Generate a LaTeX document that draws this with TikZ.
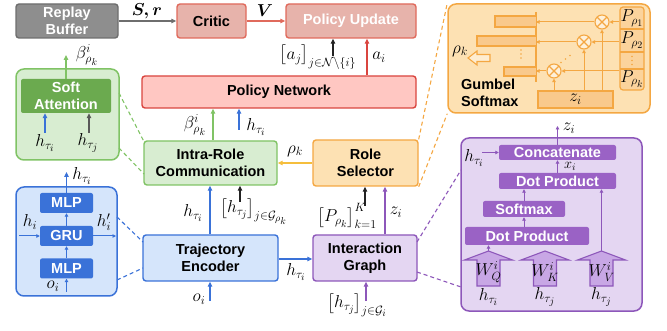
\documentclass[tikz,border=0pt]{standalone}
\usepackage{amsmath,amssymb}
\usepackage{fontspec}
\newfontfamily\labfont{Liberation Sans}
\usetikzlibrary{arrows.meta,calc}
\DeclareMathSizes{16.5}{16.5}{12.5}{10}

\definecolor{grayfill}{HTML}{8E8E8E}
\definecolor{grayln}{HTML}{6E6E6E}
\definecolor{critfill}{HTML}{E7B3AB}
\definecolor{critln}{HTML}{E06A5C}
\definecolor{pnfill}{HTML}{FFC7C2}
\definecolor{pnln}{HTML}{D9453F}
\definecolor{grnfill}{HTML}{D8EDD1}
\definecolor{grnln}{HTML}{80C365}
\definecolor{grndk}{HTML}{6BAA4F}
\definecolor{blufill}{HTML}{D5E5FB}
\definecolor{bluln}{HTML}{3A72D8}
\definecolor{orfill}{HTML}{FDE1B3}
\definecolor{orln}{HTML}{F4A742}
\definecolor{ordk}{HTML}{F9C98C}
\definecolor{rhocol}{HTML}{F5BE3C}
\definecolor{purfill}{HTML}{E4D6F2}
\definecolor{purln}{HTML}{8D57BA}
\definecolor{purdk}{HTML}{9A62C5}
\definecolor{purmid}{HTML}{C8A7E5}
\definecolor{ink}{HTML}{222222}

\newcommand{\lbl}{\labfont\fontsize{14.5}{17}\selectfont\bfseries}
\newcommand{\mth}{\fontsize{16.5}{18}\selectfont}

\begin{document}
\begin{tikzpicture}[x=1pt,y=-1pt,
  wh/.style 2 args={minimum width=#1pt, minimum height=#2pt},
  box/.style={draw, rounded corners=3pt, line width=1.4pt, align=center, inner sep=0pt, font=\lbl},
  inbox/.style={rounded corners=2pt, inner sep=0pt, align=center, font=\lbl, text=white},
  panel/.style={draw, rounded corners=8pt, line width=1.5pt, inner sep=0pt},
  lab/.style={inner sep=0pt, font=\mth},
  arr/.style={-{Triangle[length=5pt,width=4.5pt]}, line width=1.1pt},
  sarr/.style={-{Triangle[length=3.5pt,width=3.5pt]}, line width=1pt},
  dsh/.style={dash pattern=on 4pt off 3pt, line width=1.1pt},
  odot/.style={circle, fill=orln, inner sep=0pt, minimum size=1.6pt},
  otimes/.style={circle, draw=orln, line width=1.1pt, fill=orfill!50!white, minimum size=14pt, inner sep=0pt,
    path picture={\draw[orln, line width=1.1pt]
      (path picture bounding box.north west) -- (path picture bounding box.south east)
      (path picture bounding box.north east) -- (path picture bounding box.south west);}}
]
\useasboundingbox (0,0) rectangle (667,331);

% ---------- top row ----------
\node[box, wh={102}{34}, fill=grayfill, draw=grayln, text=white] (rb) at (67,21) {Replay\\Buffer};
\node[box, wh={69}{34}, fill=critfill, draw=critln] (critic) at (211.5,21) {Critic};
\node[box, wh={130}{34}, fill=critfill, draw=critln, text=white] (pu) at (351,21) {Policy Update};
\draw[arr, grayln] (rb) -- (critic);
\node[lab] (sr) at (147,11) {$\boldsymbol{S,r}$};
\draw[arr, critln] (critic) -- (pu);
\node[lab] (vv) at (265,11) {$\boldsymbol{V}$};

% ---------- policy network ----------
\node[box, wh={274}{32}, fill=pnfill, draw=pnln] (pn) at (279,92) {Policy Network};
\coordinate (xa) at (367,0);
\coordinate (aj) at (333,56);
\draw[arr, pnln] (pn.north -| xa) -- (pu.south -| xa);
\node[lab] (ailab) at (379,57) {$a_i$};
\draw[arr, ink] (aj) -- (pu.south -| aj);
\node[lab] (ajlab) at (318,57) {$\big[a_j\big]_{j\in\mathcal{N}\setminus\{i\}}$};

% ---------- middle row ----------
\node[box, wh={133}{44}, fill=grnfill, draw=grnln] (irc) at (210.5,163) {Intra-Role\\Communication};
\node[box, wh={105}{46}, fill=orfill, draw=orln] (rs) at (365.5,163) {Role\\Selector};
\coordinate (xb) at (213,0);
\coordinate (hb) at (239,130);
\draw[arr, grnln] (irc.north -| xb) -- (pn.south -| xb);
\node[lab] (blab) at (195,125) {$\beta^{i}_{\rho_k}$};
\draw[arr, bluln] (hb) -- (pn.south -| hb);
\node[lab] (hlab1) at (256,127) {$h_{\tau_i}$};
\draw[arr, rhocol] (rs) -- (irc);
\node[lab] (rholab) at (295,151) {$\rho_k$};

% ---------- bottom row ----------
\node[box, wh={135}{46}, fill=blufill, draw=bluln] (te) at (210.5,258) {Trajectory\\Encoder};
\node[box, wh={104}{46}, fill=purfill, draw=purln] (ig) at (365,258) {Interaction\\Graph};
\coordinate (xc) at (210,0);
\coordinate (hj) at (240,202);
\draw[arr, bluln] (te.north -| xc) -- (irc.south -| xc);
\node[lab] (hlab2) at (193,213) {$h_{\tau_i}$};
\draw[arr, ink] (hj) -- (irc.south -| hj);
\node[lab, anchor=north west] (hjlab) at (220,198) {$\big[h_{\tau_j}\big]_{j\in\mathcal{G}_{\rho_k}}$};
\draw[arr, bluln] (te.east |- 0,259) -- (ig.west |- 0,259);
\node[lab] (hlab3) at (296,272) {$h_{\tau_i}$};
\coordinate (oi) at (210,301);
\draw[arr, bluln] (oi) -- (te.south -| oi);
\node[lab] (oilab) at (199,299) {$o_i$};
\coordinate (pk) at (365,206);
\draw[arr, ink] (pk) -- (rs.south -| pk);
\node[lab] (pklab) at (347,216) {$\big[P_{\rho_k}\big]^{K}_{k=1}$};
\coordinate (xz) at (385,0);
\draw[arr, purln] (ig.north -| xz) -- (rs.south -| xz);
\node[lab] (zlab) at (396,212) {$z_i$};
\coordinate (hg) at (366,301);
\draw[arr, purln] (hg) -- (ig.south -| hg);
\node[lab] (hglab) at (357,305) {$\big[h_{\tau_j}\big]_{j\in\mathcal{G}_i}$};

% ---------- soft attention panel ----------
\node[panel, wh={103}{91}, fill=grnfill, draw=grnln] (gp) at (67.5,114.5) {};
\node[inbox, wh={90}{34}, fill=grndk] (sa) at (66,96) {Soft\\Attention};
\coordinate (sb) at (66,55);
\draw[arr, grnln] (sa.north) -- (sb);
\node[lab] (sblab) at (87,55) {$\beta^{i}_{\rho_k}$};
\coordinate (sq) at (45,133);
\coordinate (sk) at (89,133);
\draw[arr, bluln] (sq) -- (sa.south -| sq);
\draw[arr, ink!75] (sk) -- (sa.south -| sk);
\node[lab] (sqlab) at (45,143) {$h_{\tau_i}$};
\node[lab] (sklab) at (88,143) {$h_{\tau_j}$};
\draw[dsh, grnln] (119,93) -- (irc.north west);
\draw[dsh, grnln] (119,148) -- (144,174);

% ---------- encoder panel ----------
\node[panel, wh={101}{109}, fill=blufill, draw=bluln] (bp) at (66.5,241.5) {};
\node[inbox, wh={53}{20}, fill=bluln] (mlp1) at (66.5,203) {MLP};
\node[inbox, wh={53}{20}, fill=bluln] (gru) at (66.5,236) {GRU};
\node[inbox, wh={53}{20}, fill=bluln] (mlp2) at (66.5,268.5) {MLP};
\coordinate (ht) at (66.5,172);
\draw[arr, bluln] (mlp1.north) -- (ht);
\node[lab] (htlab) at (82,176) {$h_{\tau_i}$};
\draw[sarr, bluln] (gru) -- (mlp1);
\draw[sarr, bluln] (mlp2) -- (gru);
\coordinate (hin) at (19,236);
\coordinate (hout) at (116,236);
\draw[sarr, bluln] (hin) -- (gru.west);
\draw[sarr, bluln] (gru.east) -- (hout);
\node[lab] (hinlab) at (30,222) {$h_i$};
\node[lab] (houtlab) at (104,222) {$h'_i$};
\coordinate (ob) at (66.5,292);
\draw[sarr, bluln] (ob) -- (mlp2.south);
\node[lab] (oblab) at (53,286) {$o_i$};
\draw[dsh, bluln] (117,217) -- (143,242);
\draw[dsh, bluln] (117,280) -- (143,268);

% ---------- gumbel softmax panel ----------
\node[panel, wh={202}{109}, fill=orfill, draw=orln] (op) at (549,58.5) {};
\draw[dsh, orln] (rs.north east) -- (op.north west);
\draw[dsh, orln] (rs.south east) -- (op.south west);
\node[draw=orln, fill=ordk!60!orfill, rounded corners=3pt, line width=1.2pt, wh={24}{83}, inner sep=0pt] (pcol) at (632,48.5) {};
\draw[orln, line width=1.1pt] (620,29) -- (644,29) (620,52) -- (644,52) (620,69) -- (644,69);
\node[lab] (p1) at (632,18) {$P_{\rho_1}$};
\node[lab] (p2) at (632,40) {$P_{\rho_2}$};
\node[lab] (pk2) at (632,79) {$P_{\rho_k}$};
\foreach \yy in {56.5,60.5,64.5} { \node[odot] at (632,\yy) {}; }
\node[draw=orln, fill=ordk, line width=1.2pt, wh={75}{17}, inner sep=0pt, font=\mth] (zbox) at (575.5,99.5) {$z_i$};
\node[otimes] (c1) at (602,22) {};
\node[otimes] (c2) at (584,42) {};
\node[otimes] (c3) at (554,71) {};
\coordinate (vtop) at (536,12);
\coordinate (vbot) at (536,82);
\draw[orln, line width=1.2pt] (vtop) -- (vbot);
\draw[orln, fill=ordk, line width=1.1pt] (536,16) -| (495,27) -- (536,27);
\draw[orln, fill=ordk, line width=1.1pt] (536,36) -| (477,46) -- (536,46);
\draw[orln, fill=ordk, line width=1.1pt] (536,67) -| (504,76) -- (536,76);
\foreach \c in {c1,c2,c3} {
  \draw[sarr, orln] (pcol.west |- \c) -- (\c);
  \draw[sarr, orln] (zbox.north -| \c) -- (\c);
  \draw[sarr, orln] (\c) -- (vtop |- \c);
}
\foreach \yy in {50,54,58} { \node[odot] at (521,\yy) {}; }
\foreach \xx/\yy in {561/62.5,565.5/59,570/55.5} { \node[odot] at (\xx,\yy) {}; }
\draw[orln, fill=orfill!60!white, line width=1.1pt] (468,58) -- (477,51) -- (477,54.5) -- (490,54.5) -- (490,61.5) -- (477,61.5) -- (477,65) -- cycle;
\node[lab] (rkl) at (460,51) {$\rho_k$};
\node[anchor=west, align=left, inner sep=0pt, font=\lbl] (gs) at (461,92.5) {Gumbel\\Softmax};

% ---------- interaction graph panel ----------
\node[panel, wh={181}{173}, fill=purfill, draw=purln] (pp) at (551.5,224.5) {};
\draw[dsh, purln] (417,242) -- (461,170);
\draw[dsh, purln] (417,272) -- (461,287);
\node[inbox, wh={117}{15}, fill=purdk] (cat) at (557.5,152.5) {Concatenate};
\node[inbox, wh={117}{16}, fill=purdk] (dp1) at (557.5,181) {Dot Product};
\node[inbox, wh={82}{16}, fill=purdk] (smx) at (524,209) {Softmax};
\node[inbox, wh={124}{18}, fill=purdk] (dp2) at (527,236) {Dot Product};
\foreach \cx/\nm in {488.5/wq,545/wk,601.5/wv} {
  \draw[purln, fill=purmid, line width=1.1pt]
    (\cx-24,260) -- (\cx,251) -- (\cx+24,260) -- (\cx+11.5,260) -- (\cx+11.5,286)
    -- (\cx-11.5,286) -- (\cx-11.5,260) -- cycle;
  \coordinate (\nm) at (\cx,251);
}
\node[lab] (wql) at (488.5,272) {$W^{i}_{Q}$};
\node[lab] (wkl) at (545,272) {$W^{i}_{K}$};
\node[lab] (wvl) at (601.5,272) {$W^{i}_{V}$};
\node[lab] (hq) at (488.5,297) {$h_{\tau_i}$};
\node[lab] (hk) at (545,297) {$h_{\tau_j}$};
\node[lab] (hv) at (601.5,297) {$h_{\tau_j}$};
\draw[sarr, purln] (wq) -- (dp2.south -| wq);
\draw[sarr, purln] (wv) -- (dp1.south -| wv);
\draw[sarr, purln] (dp2.north -| smx) -- (smx.south);
\draw[sarr, purln] (smx.north) -- (dp1.south -| smx);
\draw[sarr, purln] (dp1.north) -- (cat.south);
\node[lab, anchor=west, font=\fontsize{14}{15}\selectfont] (xil) at (564,166.5) {$x_i$};
\coordinate (zt) at (557.5,126);
\draw[sarr, purln] (cat.north) -- (zt);
\node[lab] (ztl) at (569,128) {$z_i$};
\coordinate (hc) at (482,152.5);
\draw[sarr, purln] (hc) -- (cat.west);
\node[lab] (hcl) at (474,158) {$h_{\tau_i}$};
\end{tikzpicture}
\end{document}
